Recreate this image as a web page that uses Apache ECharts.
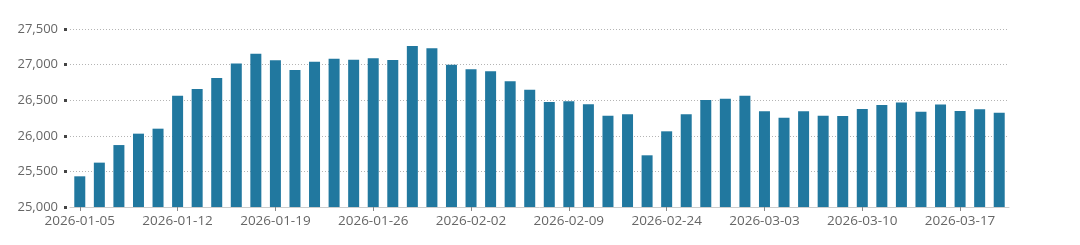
<!DOCTYPE html>
<html>
<head>
<meta charset="utf-8">
<script src="https://cdn.jsdelivr.net/npm/echarts@6/dist/echarts.min.js"></script>
<style>html,body{margin:0;padding:0;background:#fff;}#c{width:1080px;height:245px;}</style>
</head>
<body>
<div id="c"></div>
<script>
const categories = [
  '2026-01-05','2026-01-06','2026-01-07','2026-01-08','2026-01-09',
  '2026-01-12','2026-01-13','2026-01-14','2026-01-15','2026-01-16',
  '2026-01-19','2026-01-20','2026-01-21','2026-01-22','2026-01-23',
  '2026-01-26','2026-01-27','2026-01-28','2026-01-29','2026-01-30',
  '2026-02-02','2026-02-03','2026-02-04','2026-02-05','2026-02-06',
  '2026-02-09','2026-02-10','2026-02-11','2026-02-12','2026-02-13',
  '2026-02-24','2026-02-25','2026-02-26','2026-02-27','2026-03-02',
  '2026-03-03','2026-03-04','2026-03-05','2026-03-06','2026-03-09',
  '2026-03-10','2026-03-11','2026-03-12','2026-03-13','2026-03-16',
  '2026-03-17','2026-03-18','2026-03-19'
];
const values = [
  25431, 25623, 25870, 26030, 26100,
  26564, 26657, 26811, 27017, 27153,
  27060, 26923, 27041, 27083, 27069,
  27088, 27064, 27260, 27228, 26999,
  26933, 26905, 26765, 26648, 26474,
  26484, 26442, 26283, 26301, 25726,
  26063, 26301, 26502, 26522, 26564,
  26344, 26255, 26344, 26283, 26278,
  26376, 26432, 26466, 26339, 26438,
  26348, 26372, 26325
];
const yMin = 25000, yMax = 27500, yStep = 500;

const chart = echarts.init(document.getElementById('c'), null, {renderer: 'canvas'});
chart.setOption({
  animation: false,
  grid: {left: 70, right: 71, top: 29, bottom: 38, containLabel: false},
  xAxis: {
    type: 'category',
    data: categories,
    axisLine: {show: true, lineStyle: {color: '#cccccc', width: 1}},
    axisTick: {show: true, alignWithLabel: true, interval: 4, length: 4, lineStyle: {color: '#888'}},
    axisLabel: {interval: 4, color: '#666', fontSize: 13.5, fontFamily: 'Open Sans', margin: 7}
  },
  yAxis: {
    type: 'value',
    min: yMin, max: yMax, interval: yStep,
    axisLine: {show: false},
    axisTick: {show: true, length: 6, lineStyle: {color: '#444', width: 3, type: [3, 10], dashOffset: 10}},
    axisLabel: {
      color: '#666', fontSize: 13, fontFamily: 'Open Sans', margin: 12,
      formatter: v => v.toLocaleString('en-US')
    },
    splitLine: {show: true, lineStyle: {color: '#b4b4b4', type: [1, 2], width: 1}}
  },
  series: [{
    type: 'bar',
    data: values,
    barWidth: 11,
    itemStyle: {color: '#21789f'}
  }]
});
</script>
</body>
</html>
